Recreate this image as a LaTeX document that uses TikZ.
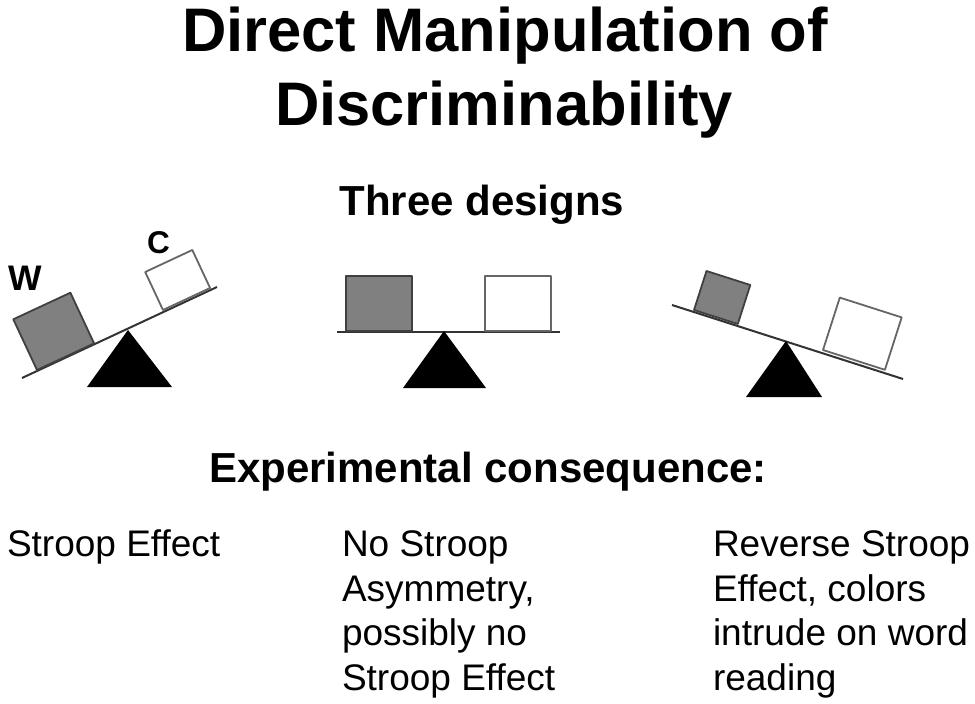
\documentclass[tikz,border=0pt]{standalone}
\usepackage{fontspec}
\setmainfont{Liberation Sans}
\begin{document}
\begin{tikzpicture}[x=1pt,y=-1pt,
  txt/.style={inner sep=0pt,outer sep=0pt},
  ttl/.style={txt,font=\bfseries\fontsize{61.5}{74}\selectfont,anchor=base},
  hdr/.style={txt,font=\bfseries\fontsize{42}{50}\selectfont,anchor=base},
  body/.style={txt,font=\fontsize{37}{45}\selectfont,anchor=base west},
  beam/.style={draw=black!80,line width=2pt},
  wbox/.style={draw=black!75,line width=1.8pt,fill=black!50,line join=round},
  cbox/.style={draw=black!60,line width=1.8pt,fill=white,line join=round},
  pivot/.style={fill=black,draw=none}]
\useasboundingbox[fill=white] (0,0) rectangle (975,704);

% title
\node[ttl] (t1) at (505,51) {Direct Manipulation of};
\node[ttl] (t2) at (504,125) {Discriminability};
\node[hdr] (h1) at (482,215) {Three designs};
\node[hdr] (h2) at (488,482) {Experimental consequence:};

% left seesaw (word dominant)
\draw[beam] (22,378) -- (217,287);
\fill[pivot] (128,330) -- (172,387) -- (87,387) -- cycle;
\draw[wbox] (37,370) -- (94.1,343.4) -- (70.4,292.7) -- (13.3,319.3) -- cycle;
\draw[cbox] (163,310) -- (210.1,288) -- (192.3,250) -- (145.2,272) -- cycle;
\node[txt,font=\bfseries\fontsize{35.5}{40}\selectfont,anchor=base] (lw) at (25,290) {W};
\node[txt,font=\bfseries\fontsize{31.5}{36}\selectfont,anchor=base] (lc) at (158.5,253) {C};

% middle seesaw (balanced)
\draw[beam] (337,332) -- (560,332);
\fill[pivot] (444,331) -- (486,388) -- (403,388) -- cycle;
\draw[wbox] (346,331) rectangle (412,276);
\draw[cbox] (485,331) rectangle (551,276);

% right seesaw (colour dominant)
\draw[beam] (672,305) -- (903,379);
\fill[pivot] (786,341) -- (822,397) -- (746,397) -- cycle;
\draw[wbox] (694,310) -- (737.8,324) -- (750.3,285) -- (706.5,271) -- cycle;
\draw[cbox] (823,350) -- (884.9,369.8) -- (901.7,317.4) -- (839.8,297.6) -- cycle;

% consequences
\node[body] (l1) at (7,556) {Stroop Effect};
\node[body] (m1) at (342,556) {No Stroop};
\node[body] (m2) at (342,601) {Asymmetry,};
\node[body] (m3) at (342,645) {possibly no};
\node[body] (m4) at (342,690) {Stroop Effect};
\node[body] (r1) at (713,556) {Reverse Stroop};
\node[body] (r2) at (713,601) {Effect, colors};
\node[body] (r3) at (713,645) {intrude on word};
\node[body] (r4) at (713,690) {reading};
\end{tikzpicture}
\end{document}
